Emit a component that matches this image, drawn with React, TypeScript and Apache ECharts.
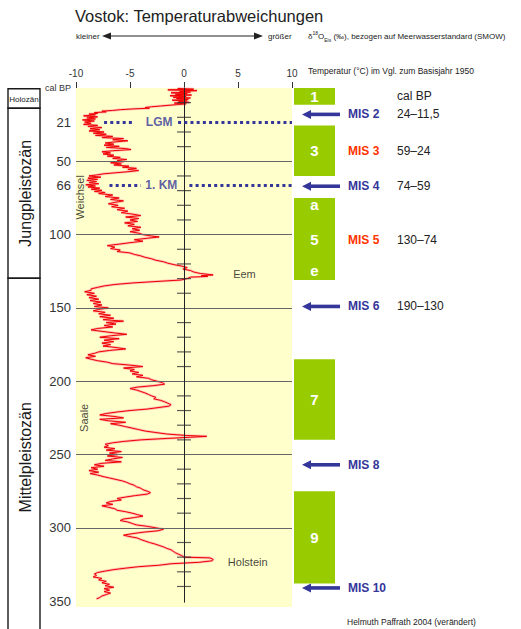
import React, { useEffect, useRef } from 'react';
import * as echarts from 'echarts';

const FONT = '"Liberation Sans", Arial, Helvetica, sans-serif';

// ---- axis values ----
const xTickValues = [-10, -5, 0, 5, 10];
const yLabelValues = [0, 23.5, 50, 66.5, 100, 150, 200, 250, 300, 350];
const yLabelTexts = ['cal BP', '21', '50', '66', '100', '150', '200', '250', '300', '350'];
const gridLineValues = [50, 100, 150, 200, 250, 300];
const zeroAxisTicks = [10, 20, 30, 40, 60, 70, 80, 90, 110, 120, 130, 140, 160, 170, 180, 190, 210, 220, 230, 240, 260, 270, 280, 290, 310, 320, 330, 340];

// ---- Vostok curve: [age (ka cal BP), temperature deviation (°C)] ----
const vostokHolocene: [number, number][] = [
  [0.3, -0.6], [0.8, 0.9], [1.3, -1.5], [1.8, 1.2], [2.3, -0.4], [2.8, 0.6], [3.3, -1.2], [3.8, 0.3],
  [4.3, -0.8], [4.8, 0.7], [5.3, -1.3], [5.8, 0.2], [6.3, -1.0], [6.8, 0.6], [7.3, -0.7], [7.8, 0.4],
  [8.3, -1.1], [8.8, 0.3], [9.3, -0.5], [9.8, 0.5], [10.3, -0.9], [10.8, 0.2], [11.3, -0.6],
];
const vostokWeichsel: [number, number][] = [
  [11.8, -1.4], [12.3, -2.2], [12.8, -3.0], [13.3, -3.6], [13.8, -3.2], [14.3, -4.8], [14.8, -5.9], [15.3, -6.6],
  [15.8, -7.6], [16.3, -7.2], [16.8, -8.3], [17.3, -8.0], [17.8, -8.8], [18.3, -8.2],
  [19, -9.3], [19.7, -8.0], [20.4, -9.0], [21.1, -8.2], [21.8, -9.4], [22.5, -8.3], [23.2, -9.2], [24, -8.6],
  [24.8, -9.3], [25.5, -8.0], [26.2, -8.9], [27, -7.6], [27.8, -8.7], [28.5, -7.8], [29.3, -8.8], [30, -7.4],
  [30.8, -8.4], [31.5, -7.2], [32.3, -8.2],
  [33, -6.6], [33.8, -7.6], [34.5, -5.6], [35.3, -6.6], [36, -5.2], [36.8, -6.4], [37.5, -7.3], [38.3, -6.5],
  [39, -7.4], [39.8, -6.0], [40.5, -7.2], [41.3, -5.4], [42, -4.9], [42.8, -6.6], [43.5, -7.6], [44.3, -6.8],
  [45, -7.5], [45.8, -6.5], [46.5, -7.1], [47.3, -5.9], [48, -6.6], [48.8, -5.3], [49.5, -6.2], [50.3, -5.6],
  [51, -6.8], [51.8, -5.8], [52.5, -6.5], [53.3, -5.1], [54, -5.7], [54.8, -4.4], [55.5, -5.2], [56.3, -4.2],
  [57, -5.0], [57.8, -6.3], [58.5, -7.4], [59.3, -8.1],
  [60, -8.8], [60.8, -7.7], [61.5, -8.9], [62.3, -8.0], [63, -9.0], [63.8, -8.1], [64.5, -8.8], [65.3, -7.9],
  [66, -9.1], [66.8, -8.2], [67.5, -8.9], [68.3, -7.8], [69, -8.6], [69.8, -7.6], [70.5, -8.3], [71.3, -7.3],
  [72, -7.9], [73, -6.6], [74, -7.3], [75, -6.0], [76, -6.8], [77, -5.6], [78, -6.4], [79, -7.0], [80, -6.1],
  [81, -6.7], [82, -5.5], [83, -6.2], [84, -5.2], [85, -5.8],
  [86, -4.8], [87, -4.0], [88, -5.4], [89, -4.2], [90, -5.0], [91, -4.3], [92, -5.5], [93, -4.6], [94, -5.2],
  [95, -4.0], [96, -4.8], [97, -4.1], [98, -5.0], [99, -4.2], [100, -3.8],
  [101, -3.0], [101.6, -2.3], [102.5, -3.4], [103.5, -4.6], [104.5, -3.8], [105.5, -5.0], [106.5, -6.0],
  [107.5, -7.1], [108.5, -6.4], [109.5, -6.8], [110.5, -5.9], [111.5, -6.2], [112.5, -5.0], [113.5, -4.6],
  [114.5, -4.0], [115.5, -3.6], [116.5, -3.0], [117.5, -2.6], [118.5, -1.9], [119.5, -1.5], [120.5, -0.9],
];
const vostokEem: [number, number][] = [
  [121.5, -0.2], [122.5, 0.3], [123.5, -0.1], [124.5, 0.6], [125.5, 0.9], [126.5, 1.5], [127.5, 2.7],
  [128, 1.6], [128.5, 2.2], [129, 0.6], [130, 0.3], [131, -0.3],
];
const vostokSaale: [number, number][] = [
  [132, -2.6], [133, -4.8], [134, -6.4], [135, -7.4], [136, -8.0], [137, -8.6],
  [138, -8.6], [139, -9.2], [140, -8.3], [141, -9.0], [142, -8.1], [143, -8.8], [144, -7.9], [145, -8.7],
  [146, -7.7], [147, -8.4], [148, -7.6], [149, -8.3], [150, -7.0], [151, -7.9], [152, -8.4], [153, -7.3],
  [154, -7.9], [155, -6.8], [156, -7.8], [157, -6.5], [158, -7.5], [159, -5.6], [160, -7.2], [161, -6.3],
  [162, -7.4], [163, -6.6], [164, -8.0], [165, -8.6], [166, -7.6], [167, -6.5], [168, -5.3], [169, -6.8],
  [170, -7.8], [171, -6.0], [172, -7.4], [173, -6.5], [174, -7.6], [175, -6.8], [176, -7.5], [177, -6.3],
  [178, -5.4], [179, -6.9], [180, -7.9], [181, -8.3], [182, -8.9], [183, -8.2], [184, -9.1], [185, -8.6],
  [186, -8.0], [187, -7.1], [188, -6.6], [189, -5.0], [190, -3.8],
  [191, -5.6], [192, -4.6], [193, -5.0], [194, -4.2], [195, -4.8], [196, -3.8], [197, -4.4], [198, -3.3],
  [199, -3.0], [200, -2.5], [201, -2.0], [202, -1.8], [203, -2.8], [204, -4.3], [205, -5.0], [206, -4.4],
  [207, -4.0], [208, -3.6], [209, -3.3], [210, -3.0], [211, -2.6], [212, -2.8], [213, -2.2], [214, -1.8],
  [215, -1.5], [216, -1.2], [217, -1.4], [218, -2.4], [219, -3.4], [220, -5.0], [221, -6.2], [222, -7.2],
  [223, -7.8], [224, -6.5], [225, -5.6], [226, -7.8], [227, -7.0], [228, -5.4], [229, -6.8], [230, -6.0],
  [231, -5.4], [232, -4.8], [233, -4.2], [234, -3.6], [235, -2.6], [236, -1.6], [237, 0.2], [237.6, 2.1],
  [238.2, 0.6], [239, -1.5], [240, -4.0], [241, -5.5], [242, -6.6], [243, -7.3], [244, -7.0], [245, -7.4],
  [246, -6.4], [247, -7.2], [248, -5.8], [249, -6.9], [250, -6.1], [251, -7.1], [252, -5.7], [253, -6.6],
  [254, -7.3], [255, -5.8], [256, -7.6], [257, -8.3], [258, -7.4], [259, -8.6],
  [260, -8.0], [261, -8.8], [262, -7.9], [263, -8.7], [264, -8.0], [265, -7.5], [266, -6.9], [267, -6.3],
  [268, -5.7], [269, -5.3], [270, -5.0], [271, -4.6], [272, -4.4], [273, -4.0], [274, -3.8], [275, -3.4],
  [276, -3.1], [277, -3.4], [278, -4.5], [279, -5.4], [280, -6.2], [281, -5.8], [282, -6.8], [283, -7.2],
  [284, -6.6], [285, -7.6], [286, -7.0], [287, -6.4], [288, -6.2], [289, -5.4], [290, -4.8], [291, -4.3],
  [292, -3.8], [293, -4.6], [294, -5.6], [295, -5.9], [296, -5.2], [297, -4.8], [298, -4.4], [299, -3.4],
  [300, -2.6], [301, -1.9], [302, -2.4], [303, -3.8], [304, -4.8], [305, -5.6], [306, -5.0], [307, -4.3],
  [308, -4.0], [309, -3.6], [310, -3.2], [311, -2.7], [312, -2.3], [313, -1.9], [314, -1.6], [315, -1.2],
  [316, -1.0], [317, -0.8], [318, -0.5], [319, -0.2], [320, 0.0],
];
const vostokHolstein: [number, number][] = [
  [320.5, 2.4], [321.5, 2.7], [322.5, 2.6], [323.5, 1.4], [324.5, -1.2], [325.5, -2.3], [326.5, -4.2],
  [327.5, -5.4], [328.5, -6.5], [329.5, -7.3], [330.5, -8.0], [331.5, -8.3], [332.5, -8.1], [333.5, -8.4],
  [334.5, -7.6], [335.5, -7.9], [336.5, -7.2], [337.5, -7.6], [338.5, -6.9], [339.5, -7.3], [340.5, -6.5],
  [341.5, -7.4], [342.5, -6.9], [343.5, -7.4], [344.5, -6.8], [345.5, -7.2], [346.5, -7.6], [347.5, -7.8],
  [348.5, -8.1],
];

// ---- stratigraphy ----
const epochs = [
  { name: 'Holozän', start: 0.5, end: 13.8 },
  { name: 'Jungpleistozän', start: 13.8, end: 129.8 },
  { name: 'Mittelpleistozän', start: 129.8, end: 374 },
];

const misBoxes = [
  { label: '1', start: 0, end: 11.5, top: '', bottom: '' },
  { label: '3', start: 25.5, end: 60, top: '', bottom: '' },
  { label: '5', start: 75, end: 131, top: 'a', bottom: 'e' },
  { label: '7', start: 185, end: 240, top: '', bottom: '' },
  { label: '9', start: 275, end: 338, top: '', bottom: '' },
];

const misRows = [
  { age: 18, name: 'MIS 2', range: '24–11,5', warm: false },
  { age: 43, name: 'MIS 3', range: '59–24', warm: true },
  { age: 67, name: 'MIS 4', range: '74–59', warm: false },
  { age: 104, name: 'MIS 5', range: '130–74', warm: true },
  { age: 149, name: 'MIS 6', range: '190–130', warm: false },
  { age: 257, name: 'MIS 8', range: '', warm: false },
  { age: 341, name: 'MIS 10', range: '', warm: false },
];

const events = [
  { label: 'LGM', age: 23.5 },
  { label: '1. KM', age: 66.5 },
];

const annotations = [
  { name: 'Weichsel', temp: -9.6, age: 74.6, vertical: true },
  { name: 'Saale', temp: -9.3, age: 225, vertical: true },
  { name: 'Eem', temp: 5.6, age: 127, vertical: false },
  { name: 'Holstein', temp: 5.9, age: 323.5, vertical: false },
];

const BLUE = '#34369a';
const RED = '#ff3300';
const GREEN = '#99cc00';

function buildOption() {
  const curve = [...vostokHolocene, ...vostokWeichsel, ...vostokEem, ...vostokSaale, ...vostokHolstein].map(
    ([age, t]) => [t, age]
  );

  // dotted event-line segments (temperature extents around the label)
  const eventSegs: Record<string, [number, number][]> = {
    LGM: [[-7.4, -4.7], [-0.55, 10]],
    '1. KM': [[-6.9, -4.0], [0.5, 10]],
  };
  const eventLabelX: Record<string, number> = { LGM: -2.3, '1. KM': -2.1 };

  return {
    animation: false,
    textStyle: { fontFamily: FONT },
    grid: [
      { left: 76, top: 88, width: 216, height: 519, show: true, backgroundColor: '#ffffcc', borderWidth: 0 },
      { left: 294, top: 88, width: 227, height: 519, show: false },
    ],
    xAxis: [
      {
        type: 'value', gridIndex: 0, position: 'top', min: -10, max: 10, interval: 5,
        axisLine: { show: false },
        axisTick: { show: true, length: 6, customValues: xTickValues, lineStyle: { color: '#333', width: 1 } },
        axisLabel: { fontSize: 10, color: '#333', margin: 10, fontFamily: FONT, customValues: xTickValues },
        splitLine: { show: false },
      },
      { type: 'value', gridIndex: 1, min: 0, max: 227, show: false },
    ],
    yAxis: [
      {
        type: 'value', gridIndex: 0, inverse: true, min: 0, max: 354,
        axisLine: { show: false },
        axisTick: { show: true, length: 3, customValues: gridLineValues, lineStyle: { color: '#555' } },
        axisLabel: {
          customValues: yLabelValues,
          formatter: (v: number) => {
            const i = yLabelValues.indexOf(v);
            const t = i >= 0 ? yLabelTexts[i] : String(v);
            return i === 0 ? '{s|' + t + '}' : t;
          },
          fontSize: 13, color: '#333', margin: 5, fontFamily: FONT,
          rich: { s: { fontSize: 9, color: '#333', fontFamily: FONT } },
        },
        splitLine: { show: false },
      },
      { type: 'value', gridIndex: 1, inverse: true, min: 0, max: 354, show: false },
    ],
    graphic: [
      { type: 'text', x: 75, y: 16, style: { text: 'Vostok: Temperaturabweichungen', fontSize: 16.5, fill: '#222', fontFamily: FONT, verticalAlign: 'middle' } },
      { type: 'text', x: 76, y: 36, style: { text: 'kleiner', fontSize: 8, fill: '#222', fontFamily: FONT, verticalAlign: 'middle' } },
      { type: 'line', shape: { x1: 106, y1: 36, x2: 259, y2: 36 }, style: { stroke: '#222', lineWidth: 1 } },
      { type: 'polygon', shape: { points: [[102, 36], [111, 32.5], [111, 39.5]] }, style: { fill: '#222' } },
      { type: 'polygon', shape: { points: [[263, 36], [254, 32.5], [254, 39.5]] }, style: { fill: '#222' } },
      { type: 'text', x: 268, y: 36, style: { text: 'größer', fontSize: 8, fill: '#222', fontFamily: FONT, verticalAlign: 'middle' } },
      {
        type: 'text', x: 308, y: 36,
        style: {
          text: '{d|δ}{sup|18}{d|O}{sub|Eis}{d| (‰), bezogen auf Meerwasserstandard (SMOW)}',
          verticalAlign: 'middle', fill: '#222', fontFamily: FONT,
          rich: {
            d: { fontSize: 8, fill: '#222', fontFamily: FONT, lineHeight: 12, verticalAlign: 'middle' },
            sup: { fontSize: 5, fill: '#222', fontFamily: FONT, lineHeight: 12, verticalAlign: 'top' },
            sub: { fontSize: 5, fill: '#222', fontFamily: FONT, lineHeight: 12, verticalAlign: 'bottom' },
          },
        },
      },
      { type: 'text', x: 308, y: 71, style: { text: 'Temperatur (°C) im Vgl. zum Basisjahr 1950', fontSize: 8.5, fill: '#222', fontFamily: FONT, verticalAlign: 'middle' } },
      { type: 'text', x: 397, y: 96, style: { text: 'cal BP', fontSize: 12, fill: '#222', fontFamily: FONT, verticalAlign: 'middle' } },
      { type: 'text', x: 347, y: 622, style: { text: 'Helmuth Paffrath 2004 (verändert)', fontSize: 8.5, fill: '#222', fontFamily: FONT, verticalAlign: 'middle' } },
    ],
    series: [
      // stratigraphic column (left)
      {
        type: 'custom', xAxisIndex: 0, yAxisIndex: 0, clip: false, silent: true, z: 1,
        data: epochs.map((e) => [0, e.start, e.end]),
        encode: { x: 0, y: [1, 2] },
        renderItem: (params: any, api: any) => {
          const e = epochs[params.dataIndex];
          const y1 = api.coord([0, e.start])[1];
          const y2 = api.coord([0, e.end])[1];
          const big = e.name !== 'Holozän';
          return {
            type: 'group',
            children: [
              { type: 'rect', shape: { x: 8, y: y1, width: 32, height: y2 - y1 }, style: { fill: 'none', stroke: '#1a1a1a', lineWidth: 1.4 } },
              {
                type: 'text', x: big ? 25 : 24, y: (y1 + y2) / 2 + (big ? 0 : 1), rotation: big ? Math.PI / 2 : 0,
                style: { text: e.name, fontSize: big ? 16 : 8, fill: '#1a1a1a', align: 'center', verticalAlign: 'middle', fontFamily: FONT },
              },
            ],
          };
        },
      },
      // pink halo of the noisy record
      {
        type: 'line', xAxisIndex: 0, yAxisIndex: 0, data: curve, showSymbol: false, silent: true, z: 2,
        lineStyle: { color: '#ffacac', width: 2.6, opacity: 0.8 },
        markLine: {
          silent: true, symbol: ['none', 'none'], label: { show: false },
          lineStyle: { color: '#666', width: 1, type: 'solid' },
          data: [
            ...gridLineValues.map((v) => ({ yAxis: v })),
            [{ coord: [0, 0], lineStyle: { color: '#222', width: 1, type: 'solid' } }, { coord: [0, 351] }],
          ],
        },
      },
      // red record line
      {
        type: 'line', xAxisIndex: 0, yAxisIndex: 0, data: curve, showSymbol: false, silent: true, z: 3,
        lineStyle: { color: '#ee0000', width: 1 },
      },
      // ticks on the zero line
      {
        type: 'scatter', xAxisIndex: 0, yAxisIndex: 0, silent: true, z: 4,
        symbol: 'rect', symbolSize: [14, 1.2], itemStyle: { color: '#333' },
        data: zeroAxisTicks.map((v) => [0, v]),
      },
      // event lines (LGM, 1. KM)
      {
        type: 'scatter', xAxisIndex: 0, yAxisIndex: 0, silent: true, z: 5, symbolSize: 0,
        data: events.map((e) => ({ name: e.label, value: [eventLabelX[e.label], e.age] })),
        label: { show: true, position: 'inside', formatter: '{b}', color: BLUE, fontWeight: 'bold', fontSize: 12, fontFamily: FONT },
        markLine: {
          silent: true, symbol: ['none', 'none'], label: { show: false },
          lineStyle: { color: BLUE, width: 3, type: [3, 3.2], cap: 'butt' },
          data: events.flatMap((e) =>
            eventSegs[e.label].map(([a, b]) => [{ coord: [a, e.age] }, { coord: [b, e.age] }])
          ),
        },
      },
      // period annotations
      {
        type: 'scatter', xAxisIndex: 0, yAxisIndex: 0, silent: true, z: 5, symbolSize: 0,
        data: annotations.map((a) => ({
          name: a.name, value: [a.temp, a.age],
          label: { rotate: a.vertical ? 90 : 0 },
        })),
        label: { show: true, position: 'inside', formatter: '{b}', color: '#111', fontSize: 11, fontFamily: FONT },
      },
      // MIS boxes (warm stages)
      {
        type: 'custom', xAxisIndex: 1, yAxisIndex: 1, silent: true, z: 2,
        data: misBoxes.map((b) => [0, b.start, b.end]),
        encode: { x: 0, y: [1, 2] },
        renderItem: (params: any, api: any) => {
          const b = misBoxes[params.dataIndex];
          const cs = params.coordSys;
          const y1 = api.coord([0, b.start])[1];
          const y2 = api.coord([0, b.end])[1];
          const cx = cs.x + 20.5;
          const txt = (t: string, y: number) => ({
            type: 'text', x: cx, y,
            style: { text: t, fill: '#fff', fontWeight: 'bold', fontSize: 15, align: 'center', verticalAlign: 'middle', fontFamily: FONT },
          });
          const children: any[] = [
            { type: 'rect', shape: { x: cs.x, y: y1, width: 41, height: y2 - y1 }, style: { fill: GREEN } },
            txt(b.label, (y1 + y2) / 2),
          ];
          if (b.top) children.push(txt(b.top, y1 + 7));
          if (b.bottom) children.push(txt(b.bottom, y2 - 10));
          return { type: 'group', children };
        },
      },
      // MIS labels, arrows and ranges
      {
        type: 'custom', xAxisIndex: 1, yAxisIndex: 1, silent: true, z: 3,
        data: misRows.map((r) => [0, r.age]),
        encode: { x: 0, y: 1 },
        renderItem: (params: any, api: any) => {
          const r = misRows[params.dataIndex];
          const cs = params.coordSys;
          const y = api.coord([0, r.age])[1];
          const x0 = cs.x;
          const children: any[] = [];
          if (!r.warm) {
            children.push(
              { type: 'polygon', shape: { points: [[x0 + 8, y], [x0 + 17, y - 4.5], [x0 + 17, y + 4.5]] }, style: { fill: BLUE } },
              { type: 'rect', shape: { x: x0 + 15, y: y - 1.8, width: 31, height: 3.6 }, style: { fill: BLUE } }
            );
          }
          children.push({
            type: 'text', x: x0 + 54, y,
            style: { text: r.name, fill: r.warm ? RED : BLUE, fontWeight: 'bold', fontSize: 12, verticalAlign: 'middle', fontFamily: FONT },
          });
          if (r.range) {
            children.push({
              type: 'text', x: x0 + 103, y,
              style: { text: r.range, fill: '#222', fontSize: 12, verticalAlign: 'middle', fontFamily: FONT },
            });
          }
          return { type: 'group', children };
        },
      },
    ],
  };
}

export default function App() {
  const ref = useRef<HTMLDivElement>(null);
  useEffect(() => {
    if (!ref.current) return;
    const chart = echarts.init(ref.current, null, { renderer: 'svg' });
    chart.setOption(buildOption() as any);
    return () => chart.dispose();
  }, []);
  return (
    <div
      ref={ref}
      style={{ position: 'fixed', left: 0, top: 0, width: 521, height: 629, background: '#ffffff' }}
    />
  );
}
